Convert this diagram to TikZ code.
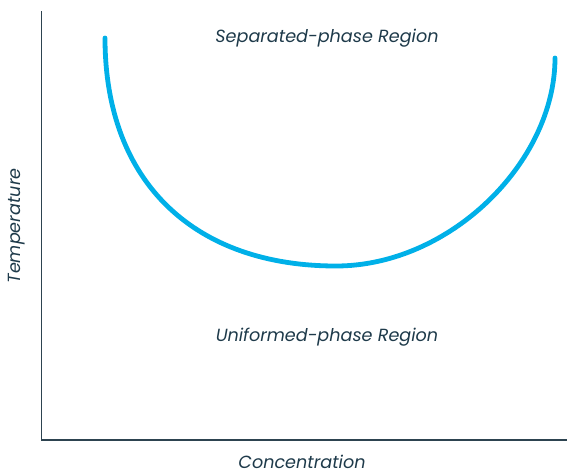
\documentclass[tikz,border=0pt]{standalone}
\usepackage{fontspec}
\setmainfont{Poppins}
\definecolor{axisgray}{HTML}{2D4350}
\definecolor{curveblue}{HTML}{00B0E8}
\definecolor{labelnavy}{HTML}{1E3A4A}
\begin{document}
\begin{tikzpicture}[
x=1pt, y=-1pt,
axis/.style={draw=axisgray, line width=1.5pt},
binodal/.style={draw=curveblue, line width=4.8pt, line cap=round},
every node/.style={text=labelnavy, font=\fontsize{17.6}{20}\selectfont\itshape, inner sep=0pt}
]
\useasboundingbox (0,0) rectangle (567,474);
% axes
\coordinate (ytop) at (41.5,11);
\coordinate (origin) at (41.5,440);
\coordinate (xend) at (567,440);
\draw[axis] (ytop) -- (origin) -- (xend);
% coexistence curve
\coordinate (cleft) at (105,38);
\coordinate (cbottom) at (336,266);
\coordinate (cright) at (555,58);
\draw[binodal] (cleft) .. controls (105,184) and (196,266) .. (cbottom)
  .. controls (450,266) and (555,162) .. (cright);
% labels
\node (upper) at (327,38) {Separated-phase Region};
\node (lower) at (327,337) {Uniformed-phase Region};
\node (xlabel) at (302,462) {Concentration};
\node[rotate=90] (ylabel) at (17,226) {Temperature};
\end{tikzpicture}
\end{document}
